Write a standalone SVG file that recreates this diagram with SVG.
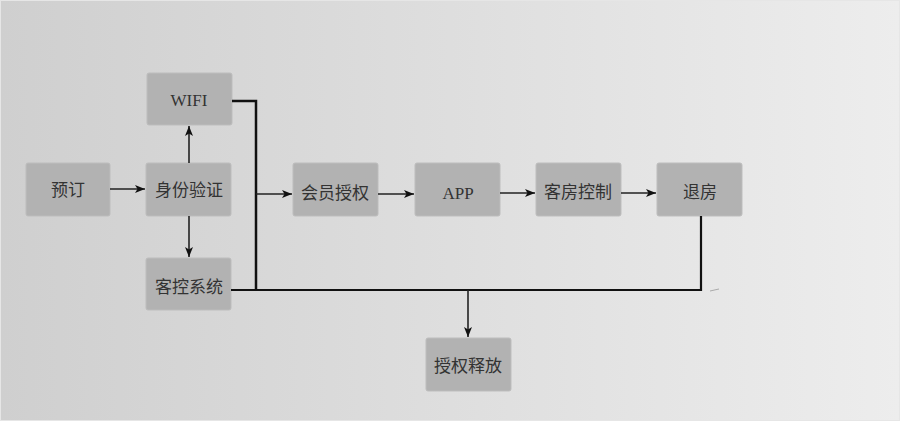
<svg xmlns="http://www.w3.org/2000/svg" width="900" height="421" viewBox="0 0 900 421">
<defs>
<linearGradient id="bg" x1="0" y1="0" x2="1" y2="0">
<stop offset="0" stop-color="#cfcfcf"/>
<stop offset="0.5" stop-color="#dedede"/>
<stop offset="1" stop-color="#ededed"/>
</linearGradient>
<marker id="arr" viewBox="0 0 10 10" refX="10" refY="5" markerWidth="10" markerHeight="10" markerUnits="userSpaceOnUse" orient="auto">
<path d="M0,1 L10,5 L0,9 L2.5,5 Z" fill="#111"/>
</marker>
<style>
.box{fill:#b2b2b2;stroke:#bdbdbd;stroke-width:1}
.t{font-family:"Liberation Serif","Noto Sans CJK SC",serif;font-size:17px;fill:#333;text-anchor:middle;dominant-baseline:central}
.a{stroke:#222;stroke-width:1.6;fill:none;marker-end:url(#arr)}
.k{stroke:#111;fill:none}
</style>
</defs>
<rect x="0" y="0" width="900" height="421" fill="url(#bg)"/>
<rect x="0.5" y="0.5" width="899" height="420" fill="none" stroke="#e6e6e6" stroke-width="1"/>
<g id="yuding"><rect class="box" x="26" y="163" width="84" height="53" rx="2"/><text class="t" x="68" y="190">预订</text></g>
<g id="shenfen"><rect class="box" x="146" y="163" width="85" height="53" rx="2"/><text class="t" x="189" y="190">身份验证</text></g>
<g id="wifi"><rect class="box" x="147" y="73" width="85" height="52" rx="2"/><text class="t" x="189" y="100">WIFI</text></g>
<g id="kekong"><rect class="box" x="146" y="258" width="85" height="52" rx="2"/><text class="t" x="189" y="287">客控系统</text></g>
<g id="huiyuan"><rect class="box" x="293" y="163" width="85" height="53" rx="2"/><text class="t" x="335" y="193">会员授权</text></g>
<g id="app"><rect class="box" x="415" y="163" width="85" height="53" rx="2"/><text class="t" x="458" y="193">APP</text></g>
<g id="kefang"><rect class="box" x="536" y="163" width="85" height="53" rx="2"/><text class="t" x="578" y="192">客房控制</text></g>
<g id="tuifang"><rect class="box" x="657" y="163" width="85" height="53" rx="2"/><text class="t" x="700" y="192">退房</text></g>
<g id="shifang"><rect class="box" x="426" y="338" width="85" height="53" rx="2"/><text class="t" x="468" y="366">授权释放</text></g>
<g id="connectors">
<line class="a" x1="110" y1="189" x2="145" y2="189"/>
<line class="a" x1="189" y1="163" x2="189" y2="126"/>
<line class="a" x1="189" y1="216" x2="189" y2="257"/>
<polyline class="k" stroke-width="2.5" points="232,101 256,101 256,290"/>
<polyline class="k" stroke-width="2.2" points="231,290 701,290 701,216"/>
<line class="a" x1="256" y1="194" x2="292" y2="194"/>
<line class="a" x1="378" y1="194" x2="414" y2="194"/>
<line class="a" x1="500" y1="193" x2="535" y2="193"/>
<line class="a" x1="621" y1="193" x2="656" y2="193"/>
<line class="a" x1="468" y1="290" x2="468" y2="337"/>
<line x1="710" y1="291" x2="719" y2="289" stroke="#aaa" stroke-width="1"/>
</g>
</svg>
